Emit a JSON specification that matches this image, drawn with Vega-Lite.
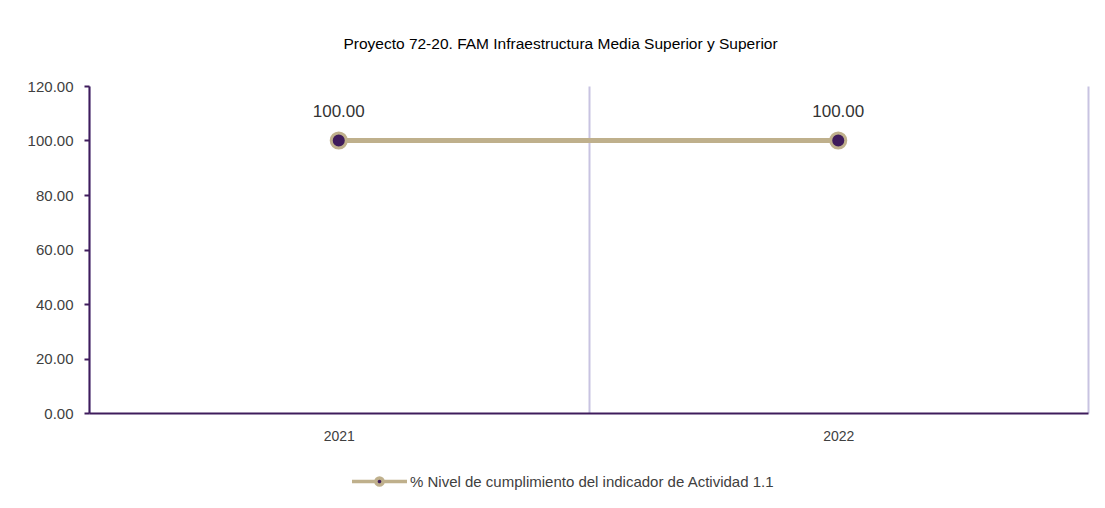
{
  "$schema": "https://vega.github.io/schema/vega-lite/v6.json",
  "autosize": "none",
  "width": 999,
  "height": 327,
  "padding": {"left": 89, "top": 86, "right": 17, "bottom": 95},
  "background": "#ffffff",
  "title": {
    "text": "Proyecto 72-20. FAM Infraestructura Media Superior y Superior",
    "font": "Liberation Sans",
    "fontSize": 15.5,
    "fontWeight": "normal",
    "color": "#000000",
    "anchor": "middle",
    "dx": -28,
    "offset": 12,
    "baseline": "bottom"
  },
  "data": {
    "values": [
      {"year": "2021", "value": 100, "serie": "% Nivel de cumplimiento del indicador de Actividad 1.1"},
      {"year": "2022", "value": 100, "serie": "% Nivel de cumplimiento del indicador de Actividad 1.1"}
    ]
  },
  "config": {
    "view": {"stroke": null},
    "font": "Liberation Sans"
  },
  "encoding": {
    "x": {
      "field": "year",
      "type": "ordinal",
      "scale": {"type": "band", "paddingInner": 0, "paddingOuter": 0},
      "axis": {
        "title": null,
        "labelAngle": 0,
        "labelFont": "Liberation Sans",
        "labelFontSize": 14,
        "labelColor": "#404040",
        "labelPadding": 16,
        "ticks": false,
        "domainColor": "#3f1c5c",
        "domainWidth": 2,
        "grid": true,
        "gridColor": "#c8c3e1",
        "gridWidth": 2,
        "tickBand": "extent"
      }
    },
    "y": {
      "field": "value",
      "type": "quantitative",
      "scale": {"domain": [0, 120], "nice": false},
      "axis": {
        "title": null,
        "values": [0, 20, 40, 60, 80, 100, 120],
        "format": ".2f",
        "grid": false,
        "labelFont": "Liberation Sans",
        "labelFontSize": 15,
        "labelColor": "#404040",
        "labelPadding": 11,
        "tickSize": 5,
        "tickColor": "#3f1c5c",
        "tickWidth": 2,
        "domainColor": "#3f1c5c",
        "domainWidth": 2
      }
    }
  },
  "layer": [
    {
      "mark": {"type": "line", "strokeWidth": 5, "color": "#bfb08c"}
    },
    {
      "mark": {"type": "point", "shape": "circle", "filled": true, "size": 227, "stroke": "#bfb08c", "strokeWidth": 3, "opacity": 1},
      "encoding": {
        "color": {
          "field": "serie",
          "type": "nominal",
          "scale": {"range": ["#3f1c5c"]},
          "legend": {
            "title": null,
            "orient": "none",
            "legendX": 261,
            "legendY": 366,
            "symbolType": "M-1,0L-0.13,0M0.13,0L1,0M0.13,0A0.13,0.13 0 1,1 -0.13,0A0.13,0.13 0 1,1 0.13,0Z",
            "symbolSize": 3025,
            "symbolStrokeColor": "#bfb08c",
            "symbolFillColor": "#3f1c5c",
            "symbolStrokeWidth": 3.5,
            "symbolOpacity": 1,
            "labelFont": "Liberation Sans",
            "labelFontSize": 15,
            "labelColor": "#404040",
            "labelOffset": 1,
            "labelLimit": 0
          }
        }
      }
    },
    {
      "mark": {"type": "text", "dy": -29, "fontSize": 17, "font": "Liberation Sans", "color": "#333333"},
      "encoding": {
        "text": {"field": "value", "type": "quantitative", "format": ".2f"}
      }
    }
  ]
}
